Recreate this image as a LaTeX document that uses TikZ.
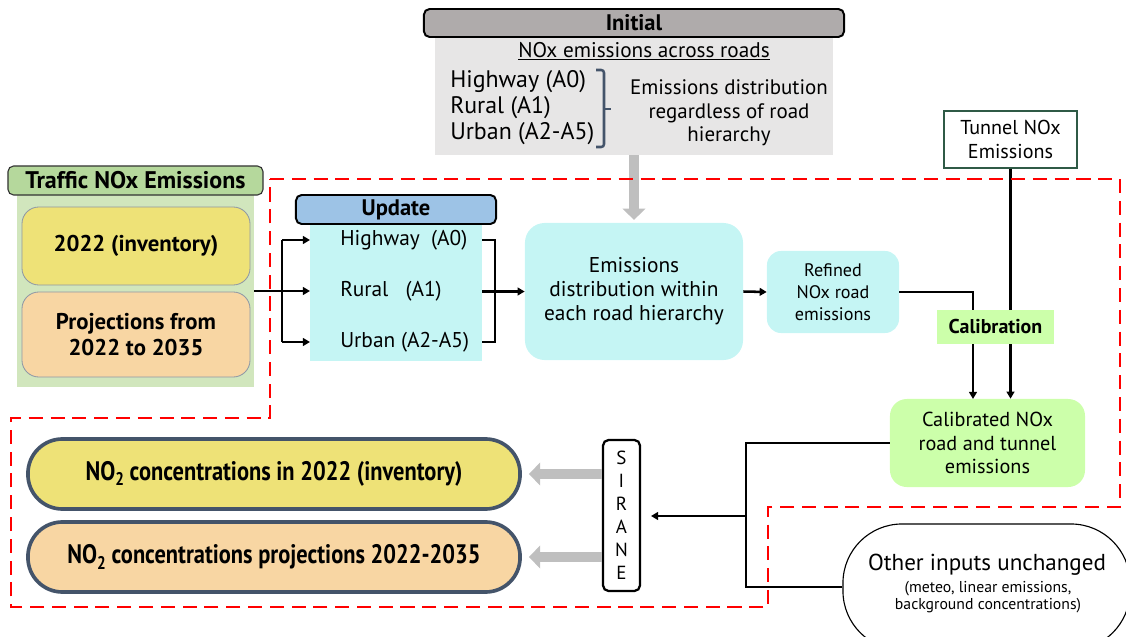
\documentclass[tikz,border=0pt]{standalone}
\usepackage{fontspec}
\setmainfont{PT Sans}
\newfontfamily\narrowfont[FakeStretch=0.84]{PT Sans}
\usetikzlibrary{arrows.meta}

\definecolor{initgray}{HTML}{AFABAB}
\definecolor{initback}{HTML}{E7E6E6}
\definecolor{trafgreen}{HTML}{B5D89C}
\definecolor{trafback}{HTML}{D1E6BD}
\definecolor{invyellow}{HTML}{EEE277}
\definecolor{projorange}{HTML}{F8D6A3}
\definecolor{roadcyan}{HTML}{C5F5F4}
\definecolor{updblue}{HTML}{9DC3E6}
\definecolor{calgreen}{HTML}{CCFFAA}
\definecolor{slate}{HTML}{44546A}
\definecolor{arrowgray}{HTML}{BFBFBF}
\definecolor{tunnelgreen}{HTML}{2F5A46}

\tikzset{
  header/.style={draw=black, line width=1.4pt, rounded corners=4pt, inner sep=0pt, font=\bfseries\fontsize{16}{18}\selectfont},
  panel/.style={inner sep=0pt, outer sep=0pt},
  roadbox/.style={fill=roadcyan, rounded corners=14pt, inner sep=0pt, align=center},
  yearbox/.style={draw=slate!60, line width=0.6pt, rounded corners=12pt, inner sep=0pt, align=center, font=\bfseries\fontsize{16.2}{18.5}\selectfont},
  resultbox/.style={draw=slate, line width=2.6pt, rounded corners=24.5pt, inner sep=0pt, minimum width=12.3cm, minimum height=1.75cm, font=\narrowfont\bfseries\fontsize{19}{21}\selectfont},
  link/.style={line width=1.8pt, -{Triangle[length=5pt,width=5.5pt]}},
  plain/.style={line width=1.8pt},
  fatarrow/.style={draw=arrowgray, line width=7.5pt, -{Triangle[length=8pt,width=16pt]}},
  zone/.style={draw=red, line width=1.5pt, dash pattern=on 10pt off 5.5pt}
}

\begin{document}
\begin{tikzpicture}[x=0.025cm, y=-0.025cm]
		%%%%% START %%%%%
		\clip (0, 0) rectangle (1126, 637);
		
		% initial emissions
		\node[panel, fill=initback, minimum width=9.95cm, minimum height=2.95cm] (initbody) at (634, 96) {};
		\node[header, fill=initgray, minimum width=10.5cm, minimum height=0.7cm] (inithead) at (634, 23) {Initial};
		\node[font=\fontsize{15.1}{17}\selectfont] (inittitle) at (644, 51) {\underline{NOx emissions across roads}};
		\node[anchor=west, align=left, inner sep=0pt, font=\fontsize{17}{18.5}\selectfont] (initroads) at (450, 108) {Highway (A0)\\Rural (A1)\\Urban (A2-A5)};
		\draw[slate, line width=1.8pt, rounded corners=2pt] (596, 70) -- (604, 70) -- (604, 147) -- (596, 147);
		\draw[slate, line width=1.8pt] (604, 109) -- (611, 109);
		\node[align=center, inner sep=0pt, font=\fontsize{14.9}{16.7}\selectfont] (initdist) at (729, 113) {Emissions distribution\\regardless of road\\hierarchy};
		
		% traffic emissions
		\node[panel, fill=trafback, minimum width=5.925cm, minimum height=4.8cm] (trafbody) at (135.5, 291) {};
		\node[header, fill=trafgreen, draw=black!80, line width=0.8pt, minimum width=6.375cm, minimum height=0.725cm, font=\bfseries\fontsize{17.1}{19}\selectfont] (trafhead) at (135.5, 180.5) {Traffic NOx Emissions};
		\node[yearbox, fill=invyellow, minimum width=5.7cm, minimum height=1.95cm] (inv) at (136, 246) {2022 (inventory)};
		\node[yearbox, fill=projorange, minimum width=5.7cm, minimum height=2.125cm] (proj) at (136, 334.5) {Projections from\\2022 to 2035};
		
		% update
		\node[panel, fill=roadcyan, minimum width=4.3cm, minimum height=3.425cm] (updbody) at (396, 292.5) {};
		\node[header, fill=updblue, minimum width=5cm, minimum height=0.725cm] (updhead) at (396, 209.5) {Update};
		\node[anchor=west, inner sep=0pt, font=\fontsize{15.2}{17}\selectfont] (hw) at (340, 240) {Highway\ \ (A0)};
		\node[anchor=west, inner sep=0pt, font=\fontsize{15.2}{17}\selectfont] (ru) at (340, 291) {Rural\ \ \ (A1)};
		\node[anchor=west, inner sep=0pt, font=\fontsize{15.2}{17}\selectfont] (ur) at (340, 342) {Urban (A2-A5)};
		
		\node[roadbox, minimum width=5.45cm, minimum height=3.425cm, font=\fontsize{15.2}{17}\selectfont] (distr) at (634, 291.5) {Emissions\\distribution within\\each road hierarchy};
		\node[roadbox, rounded corners=10pt, minimum width=3.3cm, minimum height=2.05cm, font=\fontsize{12.9}{15.6}\selectfont] (refined) at (833, 292) {Refined\\NOx road\\emissions};
		
		% calibration
		\node[draw=tunnelgreen, line width=0.8pt, fill=white, inner sep=0pt, minimum width=3.325cm, minimum height=1.425cm, align=center, font=\fontsize{14.3}{17}\selectfont] (tunnel) at (1010.5, 139.5) {Tunnel NOx\\Emissions};
		\node[fill=calgreen, rounded corners=12pt, inner sep=0pt, minimum width=4.875cm, minimum height=2.2cm, align=center, font=\fontsize{14.4}{17}\selectfont] (calib) at (987.5, 443) {Calibrated NOx\\road and tunnel\\emissions};
		
		% other inputs
		\node[draw=black, line width=0.8pt, fill=white, rounded corners=42pt, inner sep=0pt, minimum width=7.175cm, minimum height=3.15cm] (other) at (986.5, 587) {};
		\node[inner sep=0pt, font=\fontsize{16.4}{19}\selectfont] (othertitle) at (987, 565) {Other inputs unchanged};
		\node[inner sep=0pt, align=center, font=\fontsize{11.2}{12.2}\selectfont] (othernote) at (988, 597) {(meteo, linear emissions,\\background concentrations)};
		
		% sirane and results
		\node[draw=black, line width=1.6pt, rounded corners=4pt, inner sep=0pt, minimum width=0.925cm, minimum height=3.775cm, align=center, font=\fontsize{13.5}{16.4}\selectfont] (sirane) at (621.5, 515.5) {S\\I\\R\\A\\N\\E};
		\node[resultbox, fill=invyellow] (res22) at (274, 474) {NO\raisebox{-0.4ex}{\fontsize{13}{13}\selectfont 2} concentrations in 2022 (inventory)};
		\node[resultbox, fill=projorange] (resproj) at (274, 557) {NO\raisebox{-0.4ex}{\fontsize{13}{13}\selectfont 2} concentrations projections 2022-2035};
		
		% connectors
		\draw[fatarrow, shorten >=2pt] (initbody.south) -- (distr.north);
		\coordinate (split) at (282, 291);
		\coordinate (join) at (495, 291);
		\draw[link] (trafbody.east) -- (trafbody.east -| updbody.west);
		\draw[plain] (split |- hw) -- (split |- ur);
		\draw[link] (split |- hw) -- (updbody.west |- hw);
		\draw[link] (split |- ur) -- (updbody.west |- ur);
		\draw[plain] (updbody.east |- hw) -| (join |- ur) -- (updbody.east |- ur);
		\draw[link] (updbody.east |- distr.west) -- (distr.west);
		\draw[link] (distr.east) -- (refined.west);
		
		\coordinate (calin) at (973, 399);
		\draw[link] (refined.east) -| (calin);
		\draw[link] (tunnel.south) -- (tunnel.south |- calib.north);
		\node[fill=calgreen, inner sep=0pt, minimum width=2.925cm, minimum height=0.85cm, font=\bfseries\fontsize{14.2}{16}\selectfont] (calname) at (995.5, 327) {Calibration};
		
		\coordinate (merge) at (746, 516);
		\draw[plain] (calib.west) -| (merge);
		\draw[plain] (other.west) -| (merge);
		\draw[link, shorten >=7pt] (merge) -- (merge -| sirane.east);
		\draw[fatarrow, shorten >=5pt] (sirane.west |- res22) -- (res22.east);
		\draw[fatarrow, shorten >=5pt] (sirane.west |- resproj) -- (resproj.east);
		
		% updated part of the chain
		\draw[zone] (270, 179) -- (1120, 179) -- (1120, 507) -- (768, 507) -- (768, 607) -- (11, 607) -- (11, 418) -- (270, 418) -- cycle;
		
		%%%%% END %%%%%
	\end{tikzpicture}
\end{document}
